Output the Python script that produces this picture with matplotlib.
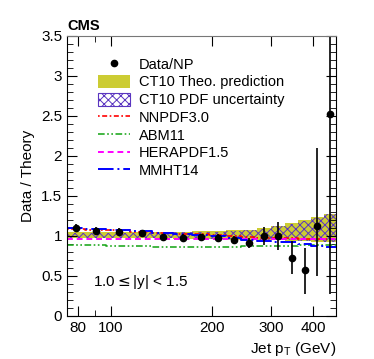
import numpy as np
import matplotlib
matplotlib.use("Agg")
import matplotlib.pyplot as plt
from matplotlib.ticker import FixedLocator, FixedFormatter, NullFormatter, MultipleLocator
from matplotlib.lines import Line2D
from matplotlib.patches import Patch

plt.rcParams['font.family'] = ['Liberation Sans', 'DejaVu Sans']
plt.rcParams['hatch.linewidth'] = 0.7

# pT bin edges (GeV) and data/theory values
edges = [74, 84, 97, 114, 133, 153, 174, 196, 220, 245, 272, 300, 330, 362, 395, 430, 468]
data = [1.10, 1.06, 1.05, 1.04, 0.99, 0.98, 0.99, 0.98, 0.95, 0.91, 1.00, 1.00, 0.73, 0.57, 1.13, 2.53]
err_lo = [0.05, 0.05, 0.05, 0.04, 0.04, 0.04, 0.04, 0.04, 0.05, 0.06, 0.11, 0.17, 0.21, 0.29, 0.63, 2.26]
err_hi = [0.05, 0.05, 0.05, 0.04, 0.04, 0.04, 0.04, 0.04, 0.05, 0.06, 0.11, 0.17, 0.21, 0.28, 0.97, 1.50]

ct10_lo = [0.97, 0.97, 0.97, 0.97, 0.97, 0.965, 0.96, 0.96, 0.955, 0.95, 0.95, 0.945, 0.94, 0.935, 0.93, 0.925]
ct10_hi = [1.05, 1.05, 1.05, 1.05, 1.05, 1.055, 1.06, 1.065, 1.07, 1.08, 1.10, 1.13, 1.16, 1.20, 1.24, 1.28]
pdf_lo = [0.975, 0.975, 0.975, 0.975, 0.975, 0.97, 0.965, 0.965, 0.96, 0.955, 0.955, 0.95, 0.945, 0.94, 0.935, 0.93]
pdf_hi = [1.04, 1.04, 1.04, 1.04, 1.04, 1.045, 1.05, 1.055, 1.06, 1.07, 1.09, 1.12, 1.15, 1.19, 1.23, 1.27]

nnpdf = [1.09, 1.08, 1.07, 1.05, 1.04, 1.03, 1.02, 1.01, 1.00, 0.99, 0.98, 0.97, 0.97, 0.96, 0.96, 0.96]
abm11 = [0.89, 0.89, 0.88, 0.87, 0.865, 0.865, 0.86, 0.86, 0.865, 0.87, 0.87, 0.875, 0.88, 0.885, 0.89, 0.89]
hera = [0.96, 0.96, 0.96, 0.96, 0.96, 0.96, 0.96, 0.96, 0.96, 0.96, 0.96, 0.965, 0.965, 0.965, 0.965, 0.965]
mmht = [1.10, 1.09, 1.07, 1.06, 1.04, 1.03, 1.01, 1.00, 0.97, 0.95, 0.94, 0.93, 0.92, 0.90, 0.88, 0.86]

edges = np.array(edges)
centers = 0.5 * (edges[:-1] + edges[1:])

def step(v):
    return np.append(v, v[-1])

yellow = "#cccc33"
purple = "#5a35c0"
styles = {
    "NNPDF3.0": ("red", (0, (1, 1.5, 3, 1.5)), 1.2),
    "ABM11": ("#22aa22", (0, (4, 1.5, 1, 1.5, 1, 1.5)), 1.2),
    "HERAPDF1.5": ("magenta", (0, (3, 2)), 1.4),
    "MMHT14": ("blue", (0, (8, 2, 1, 2)), 1.4),
}

fig = plt.figure(figsize=(3.74, 3.59), dpi=100)
ax = fig.add_axes([0.179, 0.120, 0.719, 0.780])

ax.fill_between(edges, step(ct10_lo), step(ct10_hi), step="post", color=yellow, linewidth=0)
ax.fill_between(edges, step(pdf_lo), step(pdf_hi), step="post",
                facecolor="none", edgecolor=purple, hatch="xxxx", linewidth=0)

for name, vals in [("NNPDF3.0", nnpdf), ("ABM11", abm11), ("HERAPDF1.5", hera), ("MMHT14", mmht)]:
    c, ls, lw = styles[name]
    ax.step(edges, step(vals), where="post", color=c, ls=ls, lw=lw)

ax.errorbar(centers, data, yerr=[err_lo, err_hi], fmt="o", color="black",
            ms=4.5, elinewidth=1.2, capsize=0)

ax.set_xscale("log")
ax.set_xlim(74, 468)
ax.set_ylim(0, 3.5)
ax.xaxis.set_major_locator(FixedLocator([80, 100, 200, 300, 400]))
ax.xaxis.set_minor_locator(FixedLocator([90]))
ax.xaxis.set_major_formatter(FixedFormatter(["80", "100", "200", "300", "400"]))
ax.xaxis.set_minor_formatter(NullFormatter())
ax.yaxis.set_major_locator(MultipleLocator(0.5))
ax.yaxis.set_minor_locator(MultipleLocator(0.1))
ax.yaxis.set_major_formatter(matplotlib.ticker.FuncFormatter(lambda v, p: "%g" % v))
ax.tick_params(which="both", direction="in", top=True, right=True, labelsize=11)
ax.tick_params(which="major", length=7)
ax.tick_params(which="minor", length=4)
ax.spines["top"].set_color("#777777")

ax.set_xlabel("Jet p$_\\mathregular{T}$ (GeV)", fontsize=11, loc="right")
ax.set_ylabel("Data / Theory", fontsize=11, loc="center")
ax.text(0.0, 1.01, "CMS", transform=ax.transAxes, fontsize=10.5, fontweight="bold", va="bottom")
ax.text(0.097, 0.12, "1.0$\\leq$|y| < 1.5", transform=ax.transAxes, fontsize=11, va="center")

handles = [
    Line2D([], [], ls="none", marker="o", color="black", ms=4.5),
    Patch(facecolor=yellow, edgecolor="none"),
    Patch(facecolor="white", edgecolor=purple, hatch="xxxx", linewidth=0.8),
]
labels = ["Data/NP", "CT10 Theo. prediction", "CT10 PDF uncertainty"]
for name in ["NNPDF3.0", "ABM11", "HERAPDF1.5", "MMHT14"]:
    c, ls, lw = styles[name]
    handles.append(Line2D([], [], color=c, ls=ls, lw=lw))
    labels.append(name)
ax.legend(handles, labels, loc="upper left", bbox_to_anchor=(0.093, 0.945),
          frameon=False, fontsize=10.5, handlelength=2.2, handleheight=1.0,
          labelspacing=0.22, handletextpad=0.6, borderaxespad=0)

fig.savefig("out.png", dpi=100)
